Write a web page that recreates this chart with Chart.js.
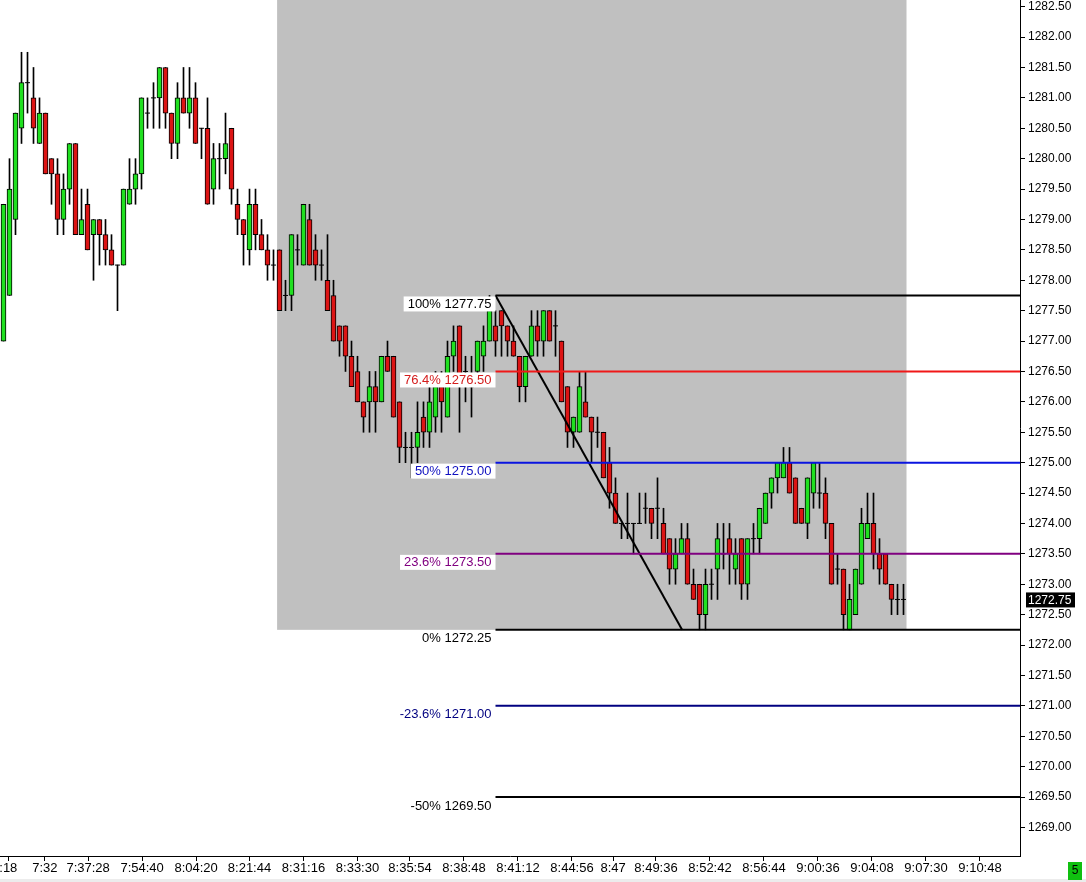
<html><head><meta charset="UTF-8">
<title>ES Fibonacci</title>
<script src="https://cdn.jsdelivr.net/npm/chart.js"></script>
<style>
body { margin: 0; background: #fff; }
canvas { display: block; }
</style>
</head>
<body>
<canvas id="chart" width="1086" height="882"></canvas>
<script>
// OHLC per bar (0.25 steps)
const opens  = [1277.0,1277.75,1279.0,1280.5,1281.25,1281.0,1280.25,1280.75,1280.0,1279.75,
  1279.0,1279.5,1280.25,1278.75,1279.25,1278.75,1279.0,1278.75,1278.5,1278.25,
  1278.25,1279.25,1279.5,1279.75,1280.75,1281.0,1281.0,1281.5,1280.75,1280.25,
  1281.0,1280.75,1281.0,1280.5,1280.5,1279.5,1280.0,1280.0,1280.5,1279.25,
  1279.0,1278.5,1279.25,1278.75,1278.5,1278.25,1278.5,1277.75,1277.75,1278.5,
  1278.25,1279.0,1278.5,1278.25,1278.0,1277.75,1277.25,1277.25,1276.75,1276.5,
  1276.0,1276.0,1276.25,1276.0,1276.75,1276.75,1276.0,1275.25,1275.25,1275.25,
  1275.75,1275.5,1275.75,1276.25,1275.75,1276.75,1277.25,1276.5,1276.25,1276.5,
  1276.75,1277.0,1277.25,1277.5,1277.25,1277.0,1276.75,1276.25,1276.75,1277.25,
  1277.0,1277.5,1277.25,1277.0,1276.25,1275.5,1275.5,1276.0,1275.75,1275.5,
  1275.5,1275.0,1274.5,1274.0,1274.0,1274.0,1274.0,1274.25,1274.25,1274.25,
  1274.0,1273.75,1273.25,1273.5,1273.75,1273.0,1273.0,1272.5,1273.0,1273.25,
  1273.5,1273.75,1273.25,1273.75,1273.0,1273.75,1273.75,1274.0,1274.5,1274.75,
  1274.75,1275.0,1274.75,1274.25,1274.0,1274.5,1274.5,1274.5,1274.0,1273.25,
  1273.25,1272.25,1272.5,1273.0,1273.75,1274.0,1273.5,1273.5,1273.0,1272.75,
  1272.75];
const highs  = [1279.25,1280.0,1280.75,1281.75,1281.75,1281.5,1281.0,1280.75,1280.0,1280.0,
  1279.75,1280.25,1280.25,1279.5,1279.5,1279.0,1279.0,1279.0,1278.75,1278.25,
  1279.5,1280.0,1280.0,1281.0,1281.0,1281.25,1281.5,1281.5,1280.75,1281.25,
  1281.5,1281.5,1281.25,1280.5,1281.0,1280.25,1280.25,1280.75,1280.5,1279.5,
  1279.0,1279.5,1279.5,1279.0,1278.75,1278.5,1278.5,1278.0,1278.75,1278.75,
  1279.25,1279.25,1278.75,1278.5,1278.75,1278.0,1277.25,1277.25,1277.0,1276.75,
  1276.0,1276.5,1276.5,1276.75,1277.0,1276.75,1276.0,1275.5,1275.5,1276.0,
  1276.0,1276.25,1276.5,1276.5,1277.0,1277.25,1277.25,1276.75,1276.75,1277.0,
  1277.25,1277.75,1277.5,1277.5,1277.25,1277.25,1276.75,1276.75,1277.5,1277.5,
  1277.5,1277.5,1277.5,1277.0,1276.25,1275.75,1276.5,1276.5,1275.75,1275.75,
  1275.5,1275.25,1274.75,1274.0,1274.5,1274.0,1274.5,1274.5,1274.25,1274.75,
  1274.25,1273.75,1273.75,1274.0,1274.0,1273.25,1273.0,1273.25,1273.25,1274.0,
  1274.0,1274.0,1273.75,1273.75,1273.75,1274.0,1274.25,1274.5,1274.75,1275.0,
  1275.25,1275.25,1274.75,1274.25,1274.75,1275.0,1275.0,1274.75,1274.0,1273.5,
  1273.25,1273.0,1273.25,1274.25,1274.5,1274.5,1273.75,1273.5,1273.0,1273.0,
  1273.0];
const lows   = [1277.0,1277.75,1278.75,1280.25,1280.75,1280.25,1280.25,1279.75,1279.25,1278.75,
  1278.75,1279.25,1278.75,1278.75,1278.5,1278.0,1278.25,1278.25,1278.25,1277.5,
  1278.25,1279.25,1279.25,1279.5,1280.5,1280.5,1280.5,1280.5,1280.0,1280.0,
  1280.75,1280.5,1280.25,1280.0,1279.25,1279.25,1279.5,1279.75,1279.25,1278.75,
  1278.25,1278.25,1278.5,1278.5,1278.0,1278.0,1277.5,1277.5,1277.5,1278.25,
  1278.25,1278.25,1278.0,1278.0,1277.5,1277.0,1276.75,1276.5,1276.25,1276.0,
  1275.5,1275.5,1275.5,1276.0,1276.5,1275.75,1275.0,1275.0,1274.75,1275.0,
  1275.25,1275.25,1275.5,1275.5,1275.75,1276.5,1275.5,1276.0,1275.75,1276.25,
  1276.5,1277.0,1276.75,1276.75,1276.75,1276.75,1276.0,1276.0,1276.75,1276.75,
  1276.75,1277.0,1276.75,1276.0,1275.25,1275.25,1275.5,1275.75,1275.0,1275.25,
  1274.75,1274.25,1274.0,1273.75,1273.75,1273.5,1274.0,1274.0,1273.75,1273.75,
  1273.5,1273.0,1273.0,1273.5,1273.0,1272.75,1272.25,1272.25,1272.75,1272.75,
  1273.25,1273.0,1273.0,1272.75,1272.75,1273.5,1273.5,1274.0,1274.25,1274.5,
  1274.75,1274.5,1274.0,1274.0,1273.75,1274.25,1274.25,1273.75,1273.0,1273.0,
  1272.25,1272.25,1272.5,1273.0,1273.75,1273.25,1273.0,1273.0,1272.5,1272.5,
  1272.5];
const closes = [1279.25,1279.5,1280.75,1281.25,1281.25,1280.5,1280.75,1279.75,1279.75,1279.0,
  1279.5,1280.25,1278.75,1279.0,1278.5,1279.0,1278.75,1278.5,1278.25,1278.25,
  1279.5,1279.5,1279.75,1281.0,1280.75,1281.0,1281.5,1280.75,1280.25,1281.0,
  1280.75,1281.0,1280.25,1280.5,1279.25,1280.0,1280.0,1280.25,1279.5,1279.0,
  1278.75,1279.25,1278.75,1278.5,1278.25,1278.25,1277.5,1277.75,1278.75,1278.5,
  1279.25,1278.25,1278.25,1278.25,1277.5,1277.0,1277.0,1276.75,1276.25,1276.0,
  1275.75,1276.25,1276.0,1276.75,1276.5,1275.75,1275.25,1275.25,1275.25,1275.5,
  1275.5,1276.0,1276.25,1276.0,1276.75,1277.0,1276.25,1276.5,1276.25,1277.0,
  1277.0,1277.5,1277.0,1277.25,1277.0,1276.75,1276.25,1276.75,1277.25,1277.0,
  1277.5,1277.0,1277.25,1276.0,1275.5,1275.75,1276.25,1275.75,1275.5,1275.5,
  1274.75,1274.5,1274.0,1274.0,1274.0,1274.0,1274.0,1274.25,1274.0,1274.25,
  1273.5,1273.25,1273.5,1273.75,1273.0,1272.75,1272.5,1273.0,1273.0,1273.75,
  1273.5,1273.5,1273.5,1273.0,1273.75,1273.75,1274.25,1274.5,1274.75,1275.0,
  1275.0,1274.5,1274.0,1274.0,1274.75,1275.0,1274.5,1274.0,1273.0,1273.25,
  1272.5,1272.75,1273.25,1274.0,1274.0,1273.5,1273.25,1273.0,1272.75,1272.75,
  1272.75];

// price axis ticks
const yTickValues = [1269.0,1269.5,1270.0,1270.5,1271.0,1271.5,1272.0,1272.5,1273.0,1273.5,
  1274.0,1274.5,1275.0,1275.5,1276.0,1276.5,1277.0,1277.5,1278.0,1278.5,
  1279.0,1279.5,1280.0,1280.5,1281.0,1281.5,1282.0,1282.5];

// time axis labels and the bar index they sit on
const xTickLabels = [':18','7:32','7:37:28','7:54:40','8:04:20','8:21:44','8:31:16','8:33:30',
  '8:35:54','8:38:48','8:41:12','8:44:56','8:47','8:49:36','8:52:42','8:56:44','9:00:36',
  '9:04:08','9:07:30','9:10:48'];
const xTickPos = [0.8,6.9,14.1,23.1,32.1,41.0,50.0,59.0,67.75,76.75,85.75,94.75,101.6,
  108.75,117.75,126.75,135.75,144.75,153.75,162.75];

// fibonacci retracement, anchored at the swing high bar
const fibPct    = ['100%','76.4%','50%','23.6%','0%','-23.6%','-50%'];
const fibLevels = [1277.75,1276.5,1275.0,1273.5,1272.25,1271.0,1269.5];
const fibColors = ['#000000','#f01818','#0a14e0','#800080','#000000','#000080','#000000'];
const fibText   = ['#000000','#d41c1c','#1010c0','#800080','#000000','#000080','#000000'];
const fibStartBar = 82;
const trendFrom = [82, 1277.75];
const trendTo   = [113.1, 1272.25];
const shadeBars = [45.6, 150.5];
const shadeLow  = 1272.25;

const X_MIN = -0.5833, X_MAX = 169.4167;
const Y_MIN = 1268.53, Y_MAX = 1282.61;
const FONT = "'Liberation Sans', Arial, sans-serif";
const UP = '#20e020', DOWN = '#dc1414';

const wickData = [], bodyData = [], bodyColors = [], dojiData = [];
for (let i = 0; i < opens.length; i++) {
  wickData.push({x: i, y: [lows[i], highs[i]]});
  if (opens[i] === closes[i]) {
    dojiData.push({x: i, y: opens[i]});
  } else {
    bodyData.push({x: i, y: [Math.min(opens[i], closes[i]), Math.max(opens[i], closes[i])]});
    bodyColors.push(closes[i] > opens[i] ? UP : DOWN);
  }
}

const datasets = [];
fibLevels.forEach((lv, k) => {
  datasets.push({
    type: 'line', data: [{x: fibStartBar, y: lv}, {x: X_MAX, y: lv}],
    borderColor: fibColors[k], borderWidth: 2, pointRadius: 0, order: 1
  });
});
datasets.push({
  type: 'line', data: [{x: trendFrom[0], y: trendFrom[1]}, {x: trendTo[0], y: trendTo[1]}],
  borderColor: '#000', borderWidth: 2, pointRadius: 0, order: 1
});
datasets.push({
  type: 'line', data: dojiData, showLine: false, pointStyle: 'line',
  pointRadius: 2.5, pointBorderWidth: 1, pointBorderColor: '#000', order: 3
});
datasets.push({
  type: 'bar', data: bodyData, backgroundColor: bodyColors, borderColor: '#000',
  borderWidth: 1, borderSkipped: false, barThickness: 5, grouped: false, order: 4
});
datasets.push({
  type: 'bar', data: wickData, backgroundColor: '#000', borderWidth: 0,
  barThickness: 1, grouped: false, order: 5
});

const decor = {
  id: 'decor',
  beforeDraw(chart) {
    const c = chart.ctx;
    c.save();
    c.fillStyle = '#fff';
    c.fillRect(0, 0, chart.width, chart.height);
    c.restore();
  },
  beforeDatasetsDraw(chart) {
    const c = chart.ctx, x = chart.scales.x, y = chart.scales.y;
    const a = chart.chartArea;
    c.save();
    c.fillStyle = '#c0c0c0';
    const x0 = x.getPixelForValue(shadeBars[0]), x1 = x.getPixelForValue(shadeBars[1]);
    c.fillRect(x0, a.top, x1 - x0, y.getPixelForValue(shadeLow) - a.top);
    c.restore();
  },
  afterDatasetsDraw(chart) {
    const c = chart.ctx, x = chart.scales.x, y = chart.scales.y;
    const right = x.getPixelForValue(fibStartBar);
    c.save();
    c.font = '13px ' + FONT;
    c.textBaseline = 'middle';
    fibLevels.forEach((lv, k) => {
      const t = fibPct[k] + ' ' + lv.toFixed(2);
      const w = c.measureText(t).width;
      const py = y.getPixelForValue(lv);
      if (lv > shadeLow) {
        c.fillStyle = '#fff';
        c.fillRect(right - w - 8, py + 1, w + 8, 15);
      }
      c.fillStyle = fibText[k];
      c.textAlign = 'right';
      c.fillText(t, right - 4, py + 9);
    });
    c.restore();
  },
  afterDraw(chart) {
    const c = chart.ctx, y = chart.scales.y;
    const last = closes[closes.length - 1];
    const py = y.getPixelForValue(last);
    c.save();
    c.fillStyle = '#000';
    c.fillRect(1026, py - 7, 49, 15);
    c.fillStyle = '#fff';
    c.font = '12px ' + FONT;
    c.textBaseline = 'middle';
    c.textAlign = 'left';
    c.fillText(last.toFixed(2), 1028, py + 1);
    // status strip and bar-count box
    c.fillStyle = '#ececec';
    c.fillRect(0, 879, chart.width, 3);
    c.fillStyle = '#10c010';
    c.fillRect(1068, 862, 14, 18);
    c.fillStyle = '#000';
    c.textAlign = 'center';
    c.fillText('5', 1075, 871);
    c.restore();
  }
};

new Chart(document.getElementById('chart'), {
  type: 'bar',
  data: {datasets},
  options: {
    responsive: false,
    animation: false,
    layout: {padding: 0, autoPadding: false},
    plugins: {legend: {display: false}, tooltip: {enabled: false}},
    scales: {
      x: {
        type: 'linear', min: X_MIN, max: X_MAX, offset: false,
        grid: {drawOnChartArea: false, drawTicks: true, tickLength: 5, tickColor: '#000', offset: false},
        border: {display: true, color: '#000', width: 1},
        ticks: {
          autoSkip: false, maxRotation: 0, padding: 0, color: '#000',
          font: {family: FONT, size: 13},
          callback: (v, i) => xTickLabels[i]
        },
        afterBuildTicks: s => { s.ticks = xTickPos.map(v => ({value: v})); },
        afterFit: s => { s.height = 26; s.paddingLeft = 0; s.paddingRight = 0; }
      },
      y: {
        type: 'linear', position: 'right', min: Y_MIN, max: Y_MAX,
        grid: {drawOnChartArea: false, drawTicks: true, tickLength: 5, tickColor: '#000'},
        border: {display: true, color: '#000', width: 1},
        ticks: {
          autoSkip: false, padding: 3, color: '#000',
          font: {family: FONT, size: 12},
          callback: v => v.toFixed(2)
        },
        afterBuildTicks: s => { s.ticks = yTickValues.map(v => ({value: v})); },
        afterFit: s => { s.width = 66; s.paddingTop = 0; s.paddingBottom = 0; }
      }
    }
  },
  plugins: [decor]
});
</script>
</body></html>
